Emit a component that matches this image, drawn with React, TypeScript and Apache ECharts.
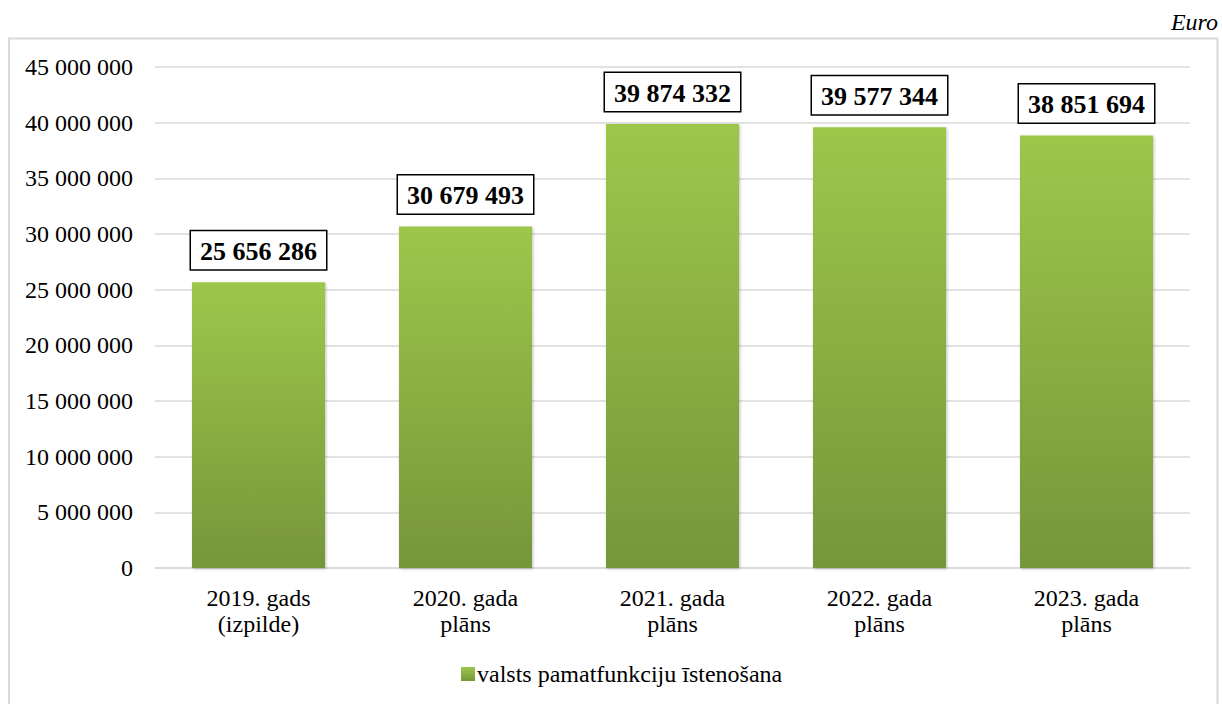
import React, { useEffect, useRef } from "react";
import * as echarts from "echarts";

const categories = ["2019. gads\n(izpilde)", "2020. gada\nplāns", "2021. gada\nplāns", "2022. gada\nplāns", "2023. gada\nplāns"];
const values = [25656286, 30679493, 39874332, 39577344, 38851694];
const seriesName = "valsts pamatfunkciju īstenošana";
const unitLabel = "Euro";

const fmt = (v: number) => String(Math.round(v)).replace(/\B(?=(\d{3})+(?!\d))/g, " ");

export default function App() {
  const ref = useRef<HTMLDivElement>(null);
  useEffect(() => {
    const chart = echarts.init(ref.current!, null, { renderer: "svg" });
    const font = "Liberation Serif";
    chart.setOption({
      animation: false,
      backgroundColor: "#ffffff",
      textStyle: { fontFamily: font },
      graphic: [
        {
          type: "rect",
          shape: { x: 9, y: 38.5, width: 1208.5, height: 670 },
          style: { fill: "none", stroke: "#d9d9d9", lineWidth: 2 },
          silent: true,
        },
        {
          type: "text",
          right: 4,
          top: 10,
          style: { text: unitLabel, fontFamily: font, fontSize: 24, fontStyle: "italic", fill: "#000" },
        },
      ],
      grid: { left: 155, right: 32, top: 67, bottom: 136 },
      legend: {
        bottom: 13,
        left: 456,
        itemWidth: 14,
        itemHeight: 14,
        itemGap: 4,
        icon: "rect",
        textStyle: { fontSize: 24, fontFamily: font, color: "#000", padding: [0, 0, 0, -3] },
        data: [seriesName],
      },
      xAxis: {
        type: "category",
        data: categories,
        axisTick: { show: false },
        axisLine: { lineStyle: { color: "#d9d9d9", width: 1.5 } },
        axisLabel: { fontSize: 24, fontFamily: font, color: "#000", lineHeight: 26, margin: 17 },
      },
      yAxis: {
        type: "value",
        min: 0,
        max: 45000000,
        interval: 5000000,
        axisLine: { show: false },
        axisTick: { show: false },
        splitLine: { lineStyle: { color: "#d9d9d9", width: 1.5 } },
        axisLabel: { fontSize: 24, fontFamily: font, color: "#000", margin: 22, formatter: (v: number) => fmt(v) },
      },
      series: [
        {
          name: seriesName,
          type: "bar",
          data: values,
          barWidth: 133,
          itemStyle: {
            color: new echarts.graphic.LinearGradient(0, 0, 0, 1, [
              { offset: 0, color: "#9cc74a" },
              { offset: 1, color: "#76963a" },
            ]),
            shadowColor: "rgba(0,0,0,0.25)",
            shadowBlur: 3,
            shadowOffsetX: 1,
            shadowOffsetY: 1,
          },
          label: {
            show: true,
            position: "top",
            distance: 13,
            formatter: (p: any) => fmt(p.value),
            fontSize: 26,
            fontWeight: "bold",
            fontFamily: font,
            color: "#000",
            backgroundColor: "#fff",
            borderColor: "#000",
            borderWidth: 1.5,
            padding: [7, 9, 5, 9],
          },
        },
      ],
    });
    return () => chart.dispose();
  }, []);
  return <div ref={ref} style={{ position: "fixed", left: 0, top: 0, width: 1222, height: 704 }} />;
}
